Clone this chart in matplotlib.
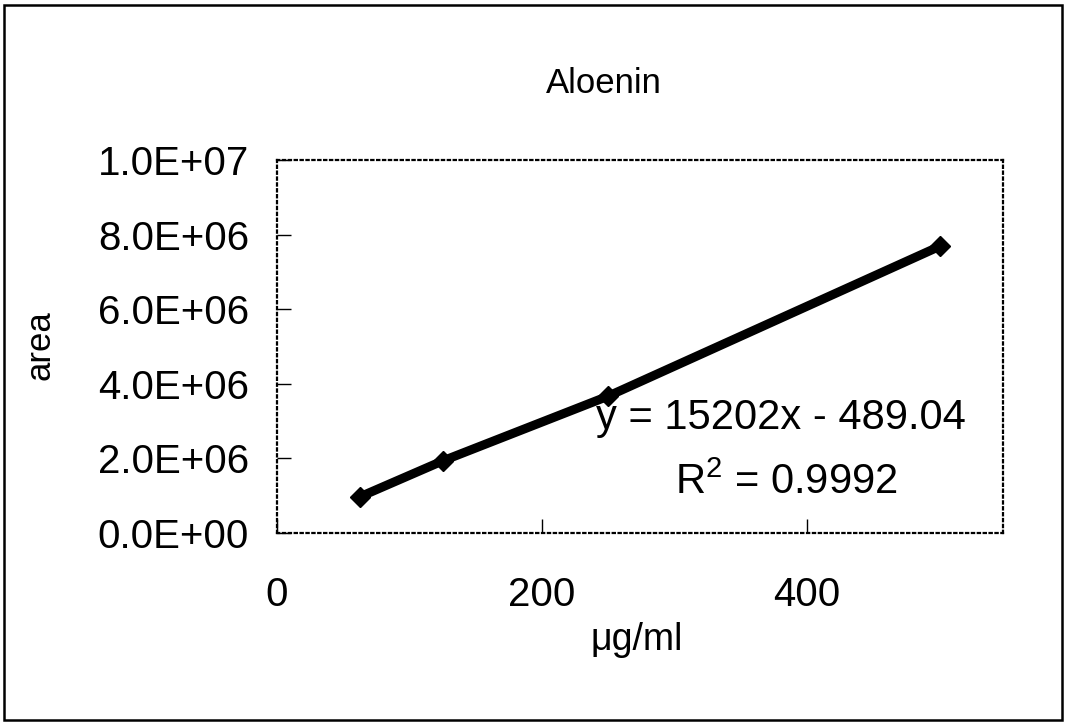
import matplotlib
matplotlib.use("Agg")
import matplotlib.pyplot as plt
from matplotlib.ticker import FuncFormatter
from matplotlib.patches import Rectangle

# Kalibracja - Aloenin
conc = [62.5, 125, 250, 500]          # ug/ml
area = [0.965e6, 1.93e6, 3.67e6, 7.69e6]
xticks = [0, 200, 400]
yticks = [0, 2e6, 4e6, 6e6, 8e6, 1e7]
equation = "y = 15202x - 489.04"
r2_text = "R$^2$ = 0.9992"

plt.rcParams['font.family'] = ['Liberation Sans', 'DejaVu Sans']
plt.rcParams['mathtext.fontset'] = 'custom'
plt.rcParams['mathtext.rm'] = 'Liberation Sans'

fig = plt.figure(figsize=(10.65, 7.22), dpi=100)
ax = fig.add_axes([0.260, 0.262, 0.682, 0.516])

# ramka zewnetrzna
fig.patches.append(Rectangle((0.004, 0.003), 0.993, 0.990, transform=fig.transFigure,
                             fill=False, edgecolor='black', linewidth=1.8))

ax.plot(conc, area, color='black', linewidth=6.5, marker='D', markersize=10,
        solid_capstyle='round')

ax.set_xlim(0, 548)
ax.set_ylim(0, 1e7)
ax.set_xticks(xticks)
ax.set_yticks(yticks)
ax.yaxis.set_major_formatter(FuncFormatter(lambda v, p: f"{v:.1E}"))
ax.tick_params(direction='in', length=10, width=1, labelsize=29)
ax.tick_params(axis='y', pad=20)
ax.tick_params(axis='x', pad=31)

for s in ax.spines.values():
    s.set_linestyle(':')
    s.set_linewidth(1.6)
    s.set_color('black')

ax.text(380, 3.08e6, equation, ha='center', va='center', fontsize=30)
ax.text(384, 1.34e6, r2_text, ha='center', va='center', fontsize=30)

fig.text(0.567, 0.885, "Aloenin", ha='center', va='center', fontsize=25)
fig.text(0.598, 0.114, "μg/ml", ha='center', va='center', fontsize=27)
fig.text(0.038, 0.522, "area", ha='center', va='center', fontsize=25, rotation=90)

fig.savefig("out.png", dpi=100)
